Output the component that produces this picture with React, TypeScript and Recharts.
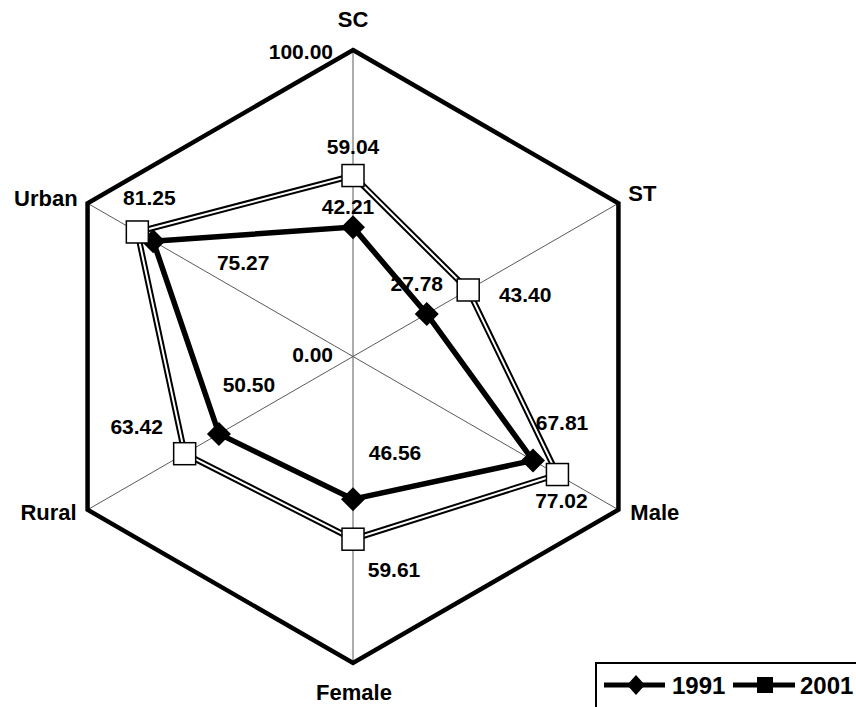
import React from "react";
import {
  RadarChart,
  Radar,
  PolarGrid,
  PolarAngleAxis,
  PolarRadiusAxis,
  LabelList,
  Legend,
} from "recharts";

const categories = ["SC", "ST", "Male", "Female", "Rural", "Urban"];
const values1991 = [42.21, 27.78, 67.81, 46.56, 50.5, 75.27];
const values2001 = [59.04, 43.4, 77.02, 59.61, 63.42, 81.25];
const radiusTicks = [0, 100];
const seriesNames = ["1991", "2001"];

const data = categories.map((c, i) => ({
  category: c,
  y1991: values1991[i],
  y2001: values2001[i],
}));

const FONT = '"Liberation Sans", Arial, sans-serif';
const CX = 353;
const CY = 356.5;
const R = 306.5;

// label nudges, px from each point (text baseline)
const nudge1991 = [[-5, -13], [-10, -23], [29, -30], [42, -39], [30, -42], [90, 29]];
const nudge2001 = [[0, -22], [57, 12], [4, 33], [41, 38], [-48, -20], [12, -27]];

// axis name placement relative to the tick point
const axisNudge: Record<string, [number, number, string]> = {
  SC: [0, -15, "middle"],
  ST: [3, 2, "start"],
  Male: [5, 6, "start"],
  Female: [1, 29, "middle"],
  Rural: [-4, 6, "end"],
  Urban: [-3, 7, "end"],
};

const AngleTick = (props: any) => {
  const { x, y, payload } = props;
  const [dx, dy, anchor] = axisNudge[payload.value] || [0, 0, "middle"];
  return (
    <text x={x + dx} y={y + dy} textAnchor={anchor} fontFamily={FONT} fontWeight="bold" fontSize={22} fill="#000">
      {payload.value}
    </text>
  );
};

const RadiusTick = (props: any) => {
  const { x, y, payload } = props;
  const dy = payload.value === 100 ? 9 : 5.5;
  return (
    <text x={x - 20} y={y + dy} textAnchor="end" fontFamily={FONT} fontWeight="bold" fontSize={21} fill="#000">
      {Number(payload.value).toFixed(2)}
    </text>
  );
};

const makeLabel = (nudges: number[][]) => (props: any) => {
  const x = props.x ?? props.viewBox?.x;
  const y = props.y ?? props.viewBox?.y;
  const i = props.index ?? 0;
  const [dx, dy] = nudges[i] || [0, 0];
  return (
    <text x={x + dx} y={y + dy} textAnchor="middle" fontFamily={FONT} fontWeight="bold" fontSize={21} fill="#000">
      {Number(props.value).toFixed(2)}
    </text>
  );
};

const Diamond = (props: any) => {
  const { cx, cy, index } = props;
  const s = 12;
  return (
    <path
      key={`d-${index}`}
      d={`M${cx},${cy - s}L${cx + s},${cy}L${cx},${cy + s}L${cx - s},${cy}Z`}
      fill="#000"
    />
  );
};

const Square = (props: any) => {
  const { cx, cy, index } = props;
  return (
    <rect key={`s-${index}`} x={cx - 11} y={cy - 11} width={22} height={22} fill="#fff" stroke="#000" strokeWidth={1.5} />
  );
};

const LegendBox = () => (
  <div style={{ borderLeft: "2px solid #000", borderTop: "2px solid #000", height: 50, boxSizing: "border-box" }}>
    <svg width={263} height={48} style={{ display: "block" }}>
      <line x1={7} y1={21} x2={68} y2={21} stroke="#000" strokeWidth={5} />
      <path d="M39,11L48,21L39,31L30,21Z" fill="#000" />
      <text x={75} y={29.5} fontFamily={FONT} fontWeight="bold" fontSize={24} fill="#000">
        {seriesNames[0]}
      </text>
      <line x1={136} y1={21} x2={198} y2={21} stroke="#000" strokeWidth={5} />
      <rect x={160} y={13} width={16} height={16} fill="#000" />
      <text x={203} y={29.5} fontFamily={FONT} fontWeight="bold" fontSize={24} fill="#000">
        {seriesNames[1]}
      </text>
    </svg>
  </div>
);

export default function App() {
  return (
    <div style={{ position: "absolute", left: 0, top: 0, width: 856, height: 707, overflow: "hidden", background: "#fff" }}>
      <RadarChart width={856} height={707} data={data} cx={CX} cy={CY} outerRadius={R} margin={{ top: 0, right: 0, bottom: 0, left: 0 }}>
        <PolarGrid gridType="polygon" polarRadius={[]} stroke="#5a5a5a" strokeWidth={1} />
        <PolarGrid gridType="polygon" radialLines={false} polarRadius={[R]} stroke="#000" strokeWidth={4.5} />
        <PolarAngleAxis dataKey="category" tick={<AngleTick />} tickLine={false} axisLine={false} tickSize={8} />
        <PolarRadiusAxis
          angle={90}
          domain={[0, 100]}
          ticks={radiusTicks}
          tickCount={2}
          axisLine={false}
          tickLine={false}
          tick={<RadiusTick />}
        />
        <Radar
          name={seriesNames[0]}
          dataKey="y1991"
          stroke="#000"
          strokeWidth={5.5}
          fill="none"
          fillOpacity={0}
          dot={Diamond}
          isAnimationActive={false}
        >
          <LabelList dataKey="y1991" content={makeLabel(nudge1991)} />
        </Radar>
        <Radar
          name="2001-outline"
          dataKey="y2001"
          stroke="#000"
          strokeWidth={6}
          fill="none"
          fillOpacity={0}
          dot={false}
          legendType="none"
          isAnimationActive={false}
        />
        <Radar
          name={seriesNames[1]}
          dataKey="y2001"
          stroke="#fff"
          strokeWidth={2}
          fill="none"
          fillOpacity={0}
          dot={Square}
          isAnimationActive={false}
        >
          <LabelList dataKey="y2001" content={makeLabel(nudge2001)} />
        </Radar>
        <Legend
          content={<LegendBox />}
          wrapperStyle={{ position: "absolute", left: 595, top: 662, width: 265, height: 50 }}
        />
      </RadarChart>
    </div>
  );
}
